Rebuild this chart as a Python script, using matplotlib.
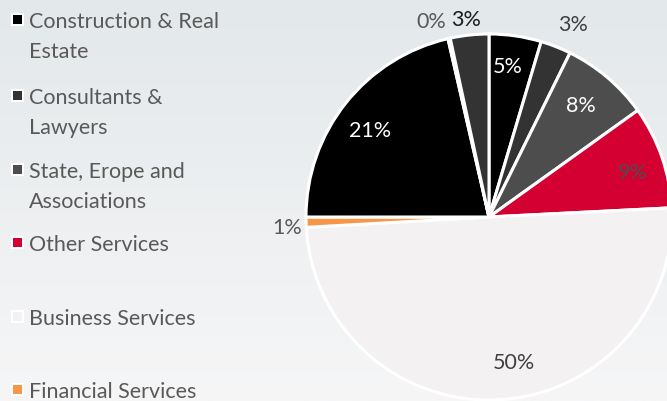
import textwrap
import numpy as np
import matplotlib
matplotlib.use("Agg")
import matplotlib.pyplot as plt
from matplotlib.colors import LinearSegmentedColormap
from matplotlib.patches import Rectangle

# ---- data ----
legend_categories = ["Construction & Real Estate", "Consultants & Lawyers",
                     "State, Erope and Associations", "Other Services",
                     "Business Services", "Financial Services"]
legend_colors = ["#000000", "#333333", "#4d4d4d", "#d50032", "#f3f1f2", "#f79646"]

# slices clockwise from 12 o'clock
slice_values = [4.6, 2.7, 7.8, 9.1, 49.9, 0.9, 21.4, 0.2, 3.4]
slice_colors = ["#000000", "#333333", "#4d4d4d", "#d50032", "#f3f1f2",
                "#f79646", "#000000", "#333333", "#333333"]

# label placement (style), in pie-axes units
label_pos = [(0.104, 0.825), (0.459, 1.055), (0.503, 0.612), (0.787, 0.246),
             (0.137, -0.795), (-1.104, -0.055), (-0.650, 0.475),
             (-0.317, 1.071), (-0.126, 1.082)]
label_colors = ["white", "#404040", "white", "#4d4d4d", "#404040", "#595959",
                "white", "#595959", "#1a1a1a"]

plt.rcParams['font.family'] = ['Lato', 'DejaVu Sans']

W, H = 667, 402
fig = plt.figure(figsize=(W / 100, H / 100), dpi=100)

# background gradient
bg = fig.add_axes([0, 0, 1, 1], zorder=-10)
cmap = LinearSegmentedColormap.from_list("bg", ["#e3e8ea", "#f6f6f7"])
grad = np.linspace(0, 1, 256).reshape(-1, 1)
bg.imshow(grad, aspect="auto", cmap=cmap, extent=[0, 1, 0, 1], origin="upper")
bg.set_axis_off()

# pie
cx, cy, r = 489, 218, 183
ax = fig.add_axes([(cx - r) / W, (H - cy - r) / H, 2 * r / W, 2 * r / H])
wedges, texts, autotexts = ax.pie(
    slice_values, colors=slice_colors, startangle=90, counterclock=False,
    autopct='%1.0f%%', wedgeprops=dict(edgecolor='white', linewidth=2.2),
    textprops=dict(fontsize=15.5))
for t, pos, col in zip(autotexts, label_pos, label_colors):
    t.set_position(pos)
    t.set_color(col)
    t.set_ha('center')
    t.set_va('center')
ax.set_xlim(-1, 1)
ax.set_ylim(-1, 1)
ax.set_axis_off()

# legend (manual)
item_tops = [20, 96, 170, 243, 317, 390]
line_gap = 30
for cat, col, ty in zip(legend_categories, legend_colors, item_tops):
    for k, line in enumerate(textwrap.wrap(cat, 19)):
        fig.text(29 / W, 1 - (ty + 2 + k * line_gap) / H, line, fontsize=15.5,
                 color="#595959", ha="left", va="center")
    s_out, s_in = 13, 9
    fig.patches.append(Rectangle(((17 - s_out / 2) / W, 1 - (ty + s_out / 2) / H),
                                 s_out / W, s_out / H, transform=fig.transFigure,
                                 facecolor="white", edgecolor="none"))
    fig.patches.append(Rectangle(((17 - s_in / 2) / W, 1 - (ty + s_in / 2) / H),
                                 s_in / W, s_in / H, transform=fig.transFigure,
                                 facecolor=col, edgecolor="none"))

fig.savefig("out.png", dpi=100)
